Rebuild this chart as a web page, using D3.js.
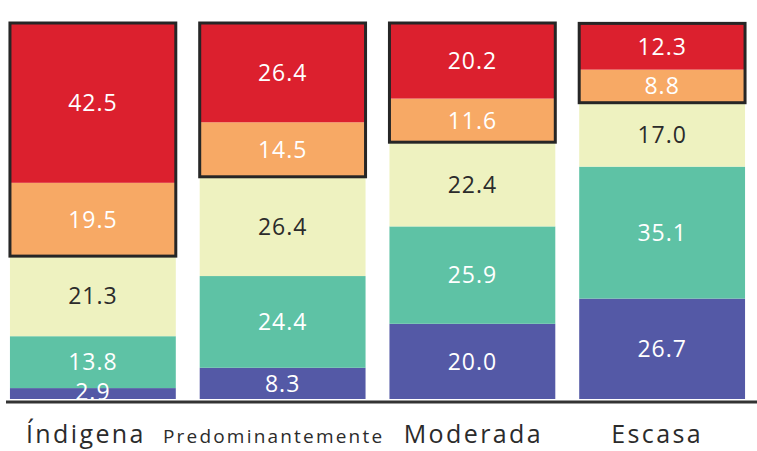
<!DOCTYPE html>
<html>
<head>
<meta charset="utf-8">
<script src="https://cdn.jsdelivr.net/npm/d3@7"></script>
<style>
  html, body { margin: 0; padding: 0; background: #fff; }
  svg { display: block; }
</style>
</head>
<body>
<svg id="chart" width="757" height="451"></svg>
<script>
const categories = ["Índigena", "Predominantemente", "Moderada", "Escasa"];
const seriesKeys = ["s1", "s2", "s3", "s4", "s5"]; // bottom to top
const s1 = [2.9, 8.3, 20.0, 26.7];
const s2 = [13.8, 24.4, 25.9, 35.1];
const s3 = [21.3, 26.4, 22.4, 17.0];
const s4 = [19.5, 14.5, 11.6, 8.8];
const s5 = [42.5, 26.4, 20.2, 12.3];
const colors = ["#5459a6", "#5ec2a5", "#eef2c0", "#f7a965", "#dc202e"];
const labelColors = ["#fff", "#fff", "#2b2b2b", "#fff", "#fff"];

const rows = categories.map((c, i) => ({
  cat: c, s1: s1[i], s2: s2[i], s3: s3[i], s4: s4[i], s5: s5[i]
}));

const svg = d3.select("#chart");
const margin = { left: 10, right: 12 };
const W = 757;

const x = d3.scaleBand().domain(categories)
  .range([margin.left - 12, W - margin.right + 12])
  .paddingInner(0.126).paddingOuter(0.063);
const y = d3.scaleLinear().domain([0, 100]).range([399, 23]);

const stack = d3.stack().keys(seriesKeys);
const layers = stack(rows);

const font = "'Open Sans', 'DejaVu Sans', sans-serif";
const segTop = d => y(Math.min(d[1], 100));

layers.forEach((layer, li) => {
  svg.append("g").selectAll("rect").data(layer).join("rect")
    .attr("x", d => x(d.data.cat))
    .attr("width", x.bandwidth())
    .attr("y", segTop)
    .attr("height", d => y(d[0]) - segTop(d))
    .attr("fill", colors[li]);
});

// outline around top two segments (orange + red)
svg.append("g").selectAll("rect").data(rows).join("rect")
  .attr("x", d => x(d.cat))
  .attr("width", x.bandwidth())
  .attr("y", d => y(Math.min(100, d.s1 + d.s2 + d.s3 + d.s4 + d.s5)))
  .attr("height", d => y(d.s1 + d.s2 + d.s3) - y(Math.min(100, d.s1 + d.s2 + d.s3 + d.s4 + d.s5)))
  .attr("fill", "none")
  .attr("stroke", "#262626")
  .attr("stroke-width", 3);

// baseline axis
const axis = svg.append("g").attr("transform", "translate(0,402)")
  .call(d3.axisBottom(x).tickSize(0).tickPadding(0).tickFormat(""));
axis.select(".domain").attr("d", "M6,0H757").attr("stroke", "#333").attr("stroke-width", 3);

// value labels drawn on top of everything
layers.forEach((layer, li) => {
  svg.append("g").selectAll("text").data(layer).join("text")
    .attr("x", d => x(d.data.cat) + x.bandwidth() / 2)
    .attr("y", d => (y(d[0]) + segTop(d)) / 2 - (li === 0 && (d[1] - d[0]) < 5 ? 2 : 0))
    .attr("dy", "0.36em")
    .attr("text-anchor", "middle")
    .attr("font-family", font)
    .attr("font-size", 23)
    .attr("letter-spacing", 1)
    .attr("fill", labelColors[li])
    .text(d => (d[1] - d[0]).toFixed(1));
});

// category labels
const labelShift = { "Índigena": -7, "Predominantemente": -9, "Moderada": 1, "Escasa": -5 };
svg.append("g").selectAll("text").data(categories).join("text")
  .attr("x", d => x(d) + x.bandwidth() / 2 + labelShift[d])
  .attr("y", 443)
  .attr("text-anchor", "middle")
  .attr("font-family", font)
  .attr("font-size", d => d === "Predominantemente" ? 19 : 25)
  .attr("letter-spacing", d => d === "Predominantemente" ? 2.2 : 2.4)
  .attr("fill", "#2b2b2b")
  .text(d => d);
</script>
</body>
</html>
